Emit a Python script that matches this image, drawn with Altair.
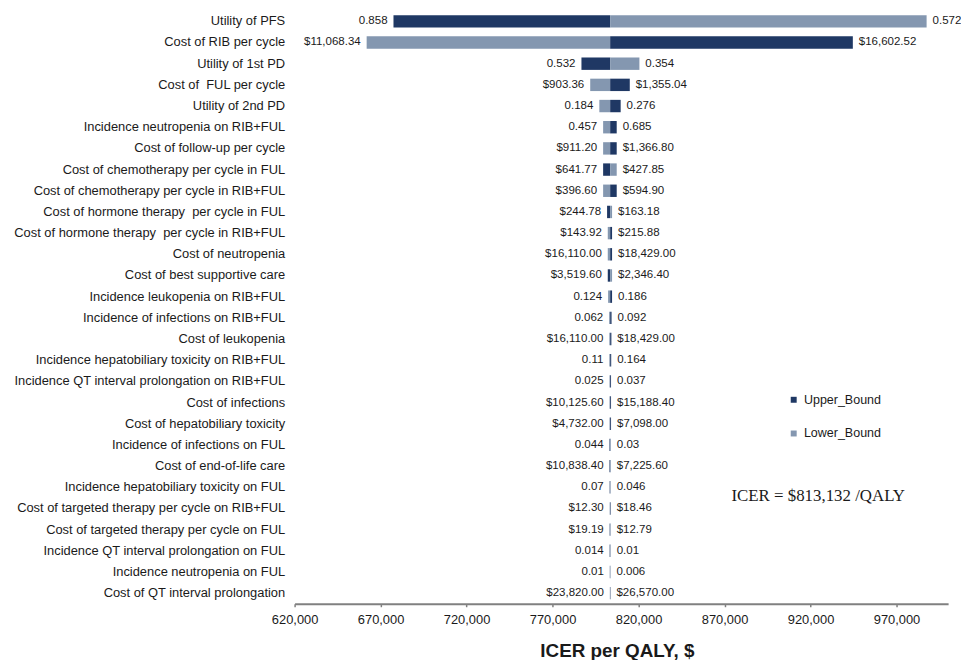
import altair as alt
import pandas as pd

params = [
    "Utility of PFS",
    "Cost of RIB per cycle",
    "Utility of 1st PD",
    "Cost of\u00a0 FUL per cycle",
    "Utility of 2nd PD",
    "Incidence neutropenia on RIB+FUL",
    "Cost of follow-up per cycle",
    "Cost of chemotherapy per cycle in FUL",
    "Cost of chemotherapy per cycle in RIB+FUL",
    "Cost of hormone therapy\u00a0 per cycle in FUL",
    "Cost of hormone therapy\u00a0 per cycle in RIB+FUL",
    "Cost of neutropenia",
    "Cost of best supportive care",
    "Incidence leukopenia on RIB+FUL",
    "Incidence of infections on RIB+FUL",
    "Cost of leukopenia",
    "Incidence hepatobiliary toxicity on RIB+FUL",
    "Incidence QT interval prolongation on RIB+FUL",
    "Cost of infections",
    "Cost of hepatobiliary toxicity",
    "Incidence of infections on FUL",
    "Cost of end-of-life care",
    "Incidence hepatobiliary toxicity on FUL",
    "Cost of targeted therapy per cycle on RIB+FUL",
    "Cost of targeted therapy per cycle on FUL",
    "Incidence QT interval prolongation on FUL",
    "Incidence neutropenia on FUL",
    "Cost of QT interval prolongation",
]

# ICER at the left and right end of each bar
left_icer = [677500, 661900, 786800, 791900, 797200, 799400, 799400, 799400,
             799400, 801700, 802100, 802100, 802100, 802300, 802900, 803000,
             803000, 803100, 803100, 803100, 803100, 803100, 803200, 803200,
             803200, 803200, 803300, 803300]
right_icer = [987500, 944600, 820500, 814900, 809600, 807300, 807300, 807300,
              807300, 804600, 804600, 804600, 804600, 804600, 804300, 804200,
              804100, 804000, 804000, 804000, 803900, 803900, 803800, 803800,
              803800, 803800, 803700, 803700]
# 1 = the left segment is the Upper_Bound
left_is_upper = [1, 0, 1, 0, 0, 0, 0, 1, 0, 1, 0, 0, 1, 0, 0, 0, 0, 0, 0, 0,
                 1, 1, 1, 0, 1, 1, 1, 0]

left_labels = ["0.858", "$11,068.34", "0.532", "$903.36", "0.184", "0.457",
               "$911.20", "$641.77", "$396.60", "$244.78", "$143.92",
               "$16,110.00", "$3,519.60", "0.124", "0.062", "$16,110.00",
               "0.11", "0.025", "$10,125.60", "$4,732.00", "0.044",
               "$10,838.40", "0.07", "$12.30", "$19.19", "0.014", "0.01",
               "$23,820.00"]
right_labels = ["0.572", "$16,602.52", "0.354", "$1,355.04", "0.276", "0.685",
                "$1,366.80", "$427.85", "$594.90", "$163.18", "$215.88",
                "$18,429.00", "$2,346.40", "0.186", "0.092", "$18,429.00",
                "0.164", "0.037", "$15,188.40", "$7,098.00", "0.03",
                "$7,225.60", "0.046", "$18.46", "$12.79", "0.01", "0.006",
                "$26,570.00"]

base_icer = 803500
tick_values = [620000, 670000, 720000, 770000, 820000, 870000, 920000, 970000]
icer_note = "ICER = $813,132 /QALY"

DARK = "#1F3864"
LIGHT = "#8497B0"
FONT = "Liberation Sans"

bars = []
labels = []
for i, p in enumerate(params):
    lb = "Upper_Bound" if left_is_upper[i] else "Lower_Bound"
    rb = "Lower_Bound" if left_is_upper[i] else "Upper_Bound"
    bars.append({"param": p, "x": left_icer[i], "x2": base_icer, "bound": lb})
    bars.append({"param": p, "x": base_icer, "x2": right_icer[i], "bound": rb})
    labels.append({"param": p, "x": left_icer[i], "text": left_labels[i], "side": "L"})
    labels.append({"param": p, "x": right_icer[i], "text": right_labels[i], "side": "R"})
bars_df = pd.DataFrame(bars)
lab_df = pd.DataFrame(labels)

xscale = alt.Scale(domain=[620000, 1000000], nice=False, zero=False)
yenc = alt.Y("param:N", sort=params, title=None,
             axis=alt.Axis(domain=False, ticks=False, labelFont=FONT,
                           labelFontSize=13, labelColor="#1a1a1a",
                           labelPadding=10, labelLimit=400))

bar_layer = alt.Chart(bars_df).mark_bar(size=12.5).encode(
    x=alt.X("x:Q", scale=xscale, title="ICER per QALY, $",
            axis=alt.Axis(values=tick_values, format=",d", grid=False,
                          labelFont=FONT, labelFontSize=13, labelColor="#1a1a1a",
                          labelPadding=7, tickSize=3, tickColor="#808080",
                          tickWidth=1.5, domainColor="#808080", domainWidth=1.8,
                          titleFont=FONT, titleFontSize=19, titleFontWeight="bold",
                          titleColor="#1a1a1a", titlePadding=15, titleX=325,
                          labelFlush=False)),
    x2="x2:Q",
    y=yenc,
    color=alt.Color("bound:N",
                    scale=alt.Scale(domain=["Upper_Bound", "Lower_Bound"], range=[DARK, LIGHT]),
                    legend=alt.Legend(title=None, orient="none", legendX=497, legendY=386,
                                      symbolType="square", symbolSize=36,
                                      labelFont=FONT, labelFontSize=12.6,
                                      labelColor="#1a1a1a", rowPadding=21,
                                      labelOffset=4, padding=0)),
)

left_text = alt.Chart(lab_df[lab_df.side == "L"]).mark_text(
    align="right", baseline="middle", dx=-6, font=FONT, fontSize=11.6, color="#1a1a1a"
).encode(x=alt.X("x:Q", scale=xscale), y=alt.Y("param:N", sort=params), text="text:N")

right_text = alt.Chart(lab_df[lab_df.side == "R"]).mark_text(
    align="left", baseline="middle", dx=6, font=FONT, fontSize=11.6, color="#1a1a1a"
).encode(x=alt.X("x:Q", scale=xscale), y=alt.Y("param:N", sort=params), text="text:N")

note = alt.Chart(pd.DataFrame({"t": [icer_note]})).mark_text(
    align="center", baseline="middle", font="Liberation Serif", fontSize=17, color="#1a1a1a"
).encode(text="t:N", x=alt.value(528), y=alt.value(489))

chart = alt.layer(bar_layer, left_text, right_text, note).properties(
    width=659, height=598,
    padding={"left": 289, "top": 0, "right": 13, "bottom": 60},
    autosize=alt.AutoSizeParams(type="none"),
).configure_view(stroke=None)

chart.save("out.html", embed_options={"renderer": "svg", "actions": False})
